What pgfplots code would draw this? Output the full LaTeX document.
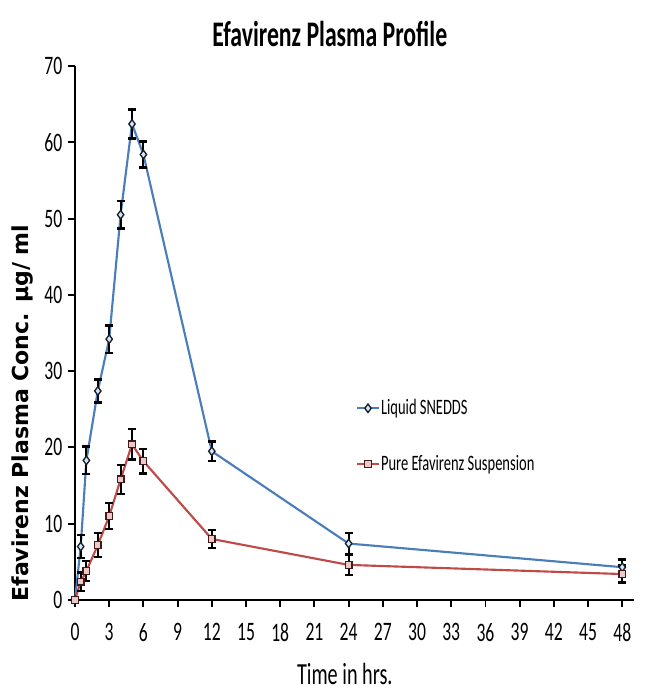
\documentclass[border=0pt]{standalone}
\usepackage{pgfplots}
\pgfplotsset{compat=1.18}
\usepackage{fontspec}
\setmainfont{Carlito}
\newfontfamily\cond[FakeStretch=0.66]{Carlito}
\newfontfamily\condb[FakeStretch=0.66]{Carlito Bold}
\newfontfamily\ylab{DejaVu Sans}
\definecolor{sblue}{HTML}{4A7EBB}
\definecolor{sred}{HTML}{BE4B48}
\begin{document}
\begin{tikzpicture}
\useasboundingbox (-56.25pt,-71.25pt) rectangle (426.75pt,450pt);
\begin{axis}[
  scale only axis,
  width=419pt, height=400.5pt,
  xmin=0, xmax=49, ymin=0, ymax=70,
  axis lines=left,
  axis line style={line width=1.4pt, -},
  xtick={0,3,...,48}, ytick={0,10,...,70},
  tick align=outside,
  major tick length=5pt,
  tick style={line width=1.4pt, black},
  /pgf/number format/assume math mode=true,
  ticklabel style={font=\cond\fontsize{20}{20}\selectfont},
  xticklabel style={yshift=-9pt},
  yticklabel style={xshift=-1pt},
  title={\condb\fontsize{27}{27}\selectfont Efavirenz Plasma Profile},
  title style={at={(axis description cs:0.456,1.045)}, anchor=center},
  xlabel={\cond\fontsize{23}{23}\selectfont Time in hrs.},
  xlabel style={at={(axis description cs:0.483,-0.139)}, anchor=center},
  ylabel={\ylab\bfseries\fontsize{16.5}{16.5}\selectfont Efavirenz Plasma Conc. µg/ ml},
  ylabel style={at={(axis description cs:-0.094,0.35)}, anchor=center, rotate=0},
  legend style={at={(axis cs:24.3,27.0)}, anchor=north west, draw=none, fill=none,
    font=\cond\fontsize{16.5}{16.5}\selectfont, row sep=25pt,
    nodes={inner xsep=1pt}},
  legend cell align=left,
  legend image code/.code={\draw[#1, mark repeat=2, mark phase=2] plot coordinates {(0cm,0cm) (0.28cm,0cm) (0.56cm,0cm)};},
  error bars/y dir=both, error bars/y explicit,
  error bars/error bar style={line width=1.4pt, black},
  error bars/error mark options={rotate=90, mark size=3pt, line width=1.8pt, black},
  clip=false,
]
\addplot[sblue, line width=1.6pt, mark=diamond*, mark size=3.2pt,
  mark options={fill=white!80!sblue, draw=black!75!sblue, line width=1pt}]
  coordinates {
  (0,0) +- (0,0.3)
  (0.5,7.0) +- (0,1.5)
  (1,18.3) +- (0,1.8)
  (2,27.4) +- (0,1.5)
  (3,34.2) +- (0,1.8)
  (4,50.5) +- (0,1.8)
  (5,62.4) +- (0,1.9)
  (6,58.4) +- (0,1.7)
  (12,19.5) +- (0,1.3)
  (24,7.4) +- (0,1.4)
  (48,4.3) +- (0,1.0)
  };
\addlegendentry{Liquid SNEDDS}
\addplot[sred, line width=1.6pt, mark=square*, mark size=2.5pt,
  mark options={fill=white!70!sred, draw=black!65!sred, line width=1pt}]
  coordinates {
  (0,0) +- (0,0.3)
  (0.5,2.4) +- (0,1.2)
  (1,3.8) +- (0,1.3)
  (2,7.2) +- (0,1.6)
  (3,11.0) +- (0,1.7)
  (4,15.8) +- (0,1.9)
  (5,20.4) +- (0,2.0)
  (6,18.2) +- (0,1.6)
  (12,8.0) +- (0,1.2)
  (24,4.6) +- (0,1.3)
  (48,3.4) +- (0,1.1)
  };
\addlegendentry{Pure Efavirenz Suspension}
\end{axis}
\end{tikzpicture}
\end{document}
